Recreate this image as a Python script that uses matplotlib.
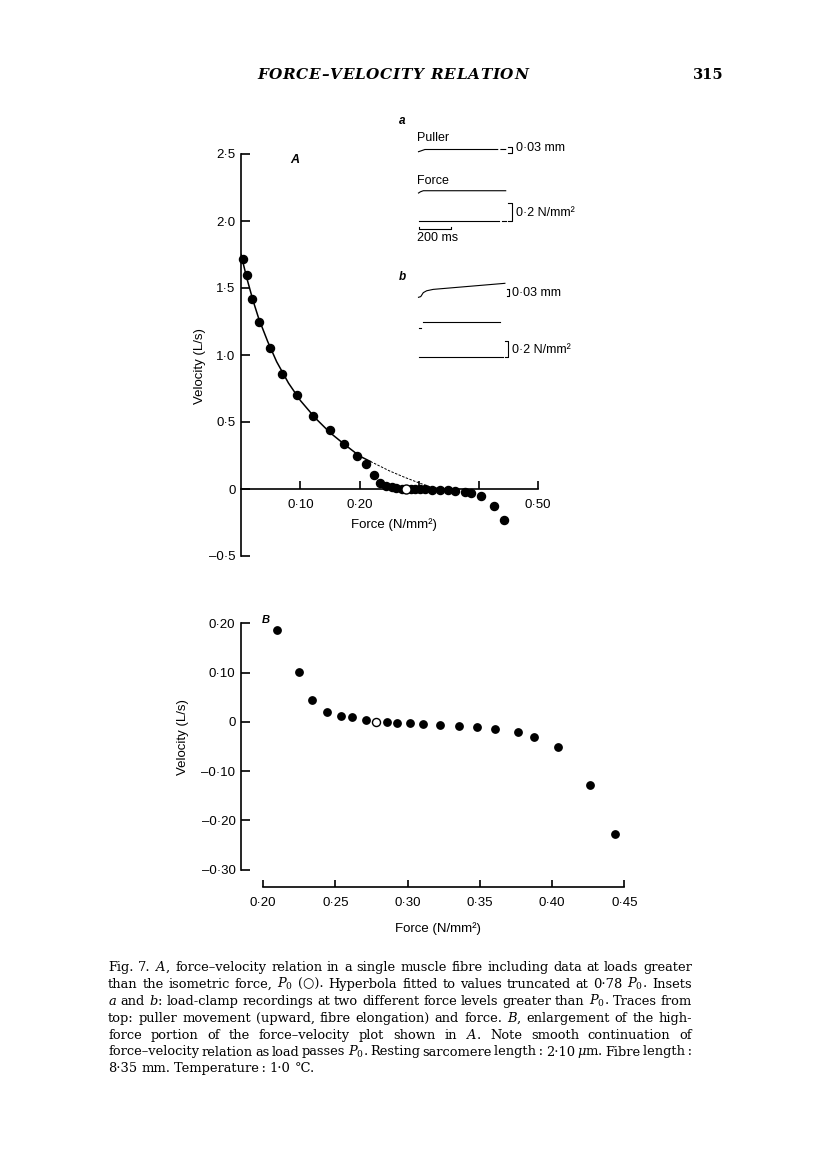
import numpy as np
import matplotlib
matplotlib.use('Agg')
import matplotlib.pyplot as plt

plt.rcParams['font.family'] = ['Liberation Sans', 'DejaVu Sans']
plt.rcParams['mathtext.fontset'] = 'dejavuserif'

W, H = 816, 1170

# panel A: low-force points (only in A) and high-force points (A and B)
force_low = [0.004, 0.0096, 0.0185, 0.031, 0.048, 0.069, 0.094, 0.122, 0.149, 0.174, 0.196]
vel_low = [1.716, 1.600, 1.418, 1.244, 1.055, 0.861, 0.701, 0.547, 0.438, 0.333, 0.249]
force_high = [0.2099, 0.2247, 0.2342, 0.2446, 0.2538, 0.2614, 0.2716, 0.2857, 0.2926, 0.3014,
              0.3106, 0.3222, 0.3355, 0.3478, 0.3604, 0.3766, 0.3872, 0.4038, 0.4262, 0.4435]
vel_high = [0.186, 0.102, 0.044, 0.021, 0.012, 0.0095, 0.0034, -0.0003, -0.002, -0.0027,
            -0.0034, -0.0054, -0.0074, -0.0108, -0.0149, -0.021, -0.030, -0.050, -0.128, -0.228]
p0_force = [0.2785]
p0_vel = [0.0]

# fitted hyperbola (solid up to 0.78 P0, dashed beyond)
fit_force = [0.0, 0.005, 0.010, 0.020, 0.030, 0.045, 0.060, 0.080, 0.100, 0.125, 0.150, 0.175, 0.200, 0.218]
fit_vel = [1.75, 1.66, 1.57, 1.41, 1.27, 1.10, 0.95, 0.79, 0.66, 0.53, 0.42, 0.33, 0.245, 0.205]
ext_force = [0.218, 0.225, 0.250, 0.275, 0.300, 0.320, 0.340]
ext_vel = [0.205, 0.19, 0.135, 0.088, 0.045, 0.014, 0.0]

a_yticks = [-0.5, 0, 0.5, 1.0, 1.5, 2.0, 2.5]
a_ylabels = ['–0·5', '0', '0·5', '1·0', '1·5', '2·0', '2·5']
a_xticks = [0.1, 0.2, 0.3, 0.4, 0.5]
a_xlabels = ['0·10', '0·20', '', '', '0·50']
b_yticks = [-0.3, -0.2, -0.1, 0, 0.1, 0.2]
b_ylabels = ['–0·30', '–0·20', '–0·10', '0', '0·10', '0·20']
b_xticks = [0.20, 0.25, 0.30, 0.35, 0.40, 0.45]
b_xlabels = ['0·20', '0·25', '0·30', '0·35', '0·40', '0·45']

# inset traces: time in ms, puller in mm, force in N/mm2
puller_a_t = [0, 15, 40, 80, 495, np.nan, 515, 545]
puller_a_mm = [0, 0.004, 0.011, 0.011, 0.011, np.nan, 0.011, 0.011]
force_a_t = [0, 12, 30, 545]
force_a_val = [0.316, 0.33, 0.342, 0.342]
base_a_t = [0, 505, np.nan, 520, 545]
base_a_val = [0, 0, np.nan, 0, 0]
puller_b_t = [0, 14, 30, 51, 92, 540]
puller_b_mm = [0, 0.003, 0.020, 0.028, 0.034, 0.060]
force_b_t = [0, 16, np.nan, 28, 510]
force_b_val = [0.37, 0.37, np.nan, 0.45, 0.45]
base_b_t = [0, 530]
base_b_val = [0, 0]

caption = [
    'Fig. 7. $A$, force–velocity relation in a single muscle fibre including data at loads greater',
    'than the isometric force, $P_0$ (○). Hyperbola fitted to values truncated at 0·78 $P_0$. Insets',
    '$a$ and $b$: load-clamp recordings at two different force levels greater than $P_0$. Traces from',
    'top: puller movement (upward, fibre elongation) and force. $B$, enlargement of the high-',
    'force portion of the force–velocity plot shown in $A$. Note smooth continuation of',
    'force–velocity relation as load passes $P_0$. Resting sarcomere length\u2009: 2·10 $\\mu$m. Fibre length\u2009:',
    '8·35 mm. Temperature\u2009: 1·0 °C.',
]


def fx(x):
    return x / W


def fy(y):
    return 1 - y / H


fig = plt.figure(figsize=(W / 100, H / 100), dpi=100)
renderer = fig.canvas.get_renderer()
TICK_FS = 9.5
LABEL_FS = 9.5
serif = ['DejaVu Serif', 'DejaVu Sans']


def style_axis(ax):
    ax.spines['top'].set_visible(False)
    ax.spines['right'].set_visible(False)
    for s in ('left', 'bottom'):
        ax.spines[s].set_linewidth(1.2)
    ax.patch.set_alpha(0)


# ---------- panel A ----------
axA = fig.add_axes([fx(241), fy(556), (538 - 241) / W, (556 - 154) / H])
axA.set_xlim(0, 0.5)
axA.set_ylim(-0.5, 2.5)
style_axis(axA)
axA.spines['bottom'].set_position(('data', 0))
axA.spines['bottom'].set_bounds(0, 0.5)
axA.spines['left'].set_bounds(-0.5, 2.5)
axA.set_yticks(a_yticks)
axA.set_yticklabels(a_ylabels, fontsize=TICK_FS)
axA.set_xticks(a_xticks)
axA.set_xticklabels(a_xlabels, fontsize=TICK_FS)
axA.tick_params(axis='y', direction='in', length=6.5, width=1.2, pad=4)
axA.tick_params(axis='x', direction='in', length=6, width=1.2, pad=7)

axA.plot(fit_force, fit_vel, color='black', lw=1.1, zorder=2)
axA.plot(ext_force, ext_vel, color='black', lw=0.7, ls=(0, (2.5, 1.5)), zorder=2)
axA.plot(force_low, vel_low, 'o', color='black', ms=5.8, clip_on=False, zorder=3)
axA.plot(force_high, vel_high, 'o', color='black', ms=5.8, clip_on=False, zorder=3)
axA.plot(p0_force, p0_vel, 'o', mfc='white', mec='black', mew=1, ms=6.5, clip_on=False, zorder=4)

fig.text(fx(295), fy(160), 'A', fontsize=9, style='italic', weight='bold', ha='center', va='center')
fig.text(fx(200), fy(366), 'Velocity (L/s)', fontsize=LABEL_FS, rotation=90, ha='center', va='center')
fig.text(fx(394), fy(525), 'Force (N/mm²)', fontsize=LABEL_FS, ha='center', va='center')

# ---------- panel B ----------
axB = fig.add_axes([fx(241), fy(869.7), (624.3 - 241) / W, (869.7 - 623.3) / H])
axB.set_xlim(0.18478, 0.45)
axB.set_ylim(-0.30, 0.20)
style_axis(axB)
axB.spines['bottom'].set_position(('outward', 12.5))
axB.spines['bottom'].set_bounds(0.20, 0.45)
axB.spines['left'].set_bounds(-0.30, 0.20)
axB.set_yticks(b_yticks)
axB.set_yticklabels(b_ylabels, fontsize=TICK_FS)
axB.set_xticks(b_xticks)
axB.set_xticklabels(b_xlabels, fontsize=TICK_FS)
axB.tick_params(axis='y', direction='in', length=6.5, width=1.2, pad=4)
axB.tick_params(axis='x', direction='in', length=5.3, width=1.2, pad=7)

bf = [f for f in force_high if f >= 0.20]
bv = [v for f, v in zip(force_high, vel_high) if f >= 0.20]
axB.plot(bf, bv, 'o', color='black', ms=5.3, clip_on=False, zorder=3)
axB.plot(p0_force, p0_vel, 'o', mfc='white', mec='black', mew=1, ms=5.8, clip_on=False, zorder=4)

fig.text(fx(266), fy(620), 'B', fontsize=8, style='italic', weight='bold', ha='center', va='center')
fig.text(fx(183), fy(737), 'Velocity (L/s)', fontsize=LABEL_FS, rotation=90, ha='center', va='center')
fig.text(fx(438), fy(929), 'Force (N/mm²)', fontsize=LABEL_FS, ha='center', va='center')

# ---------- insets a and b ----------
T0_PX = 418.5
PX_PER_MS = 0.16


def trace_axes(base_y, px_per_unit):
    left, right = 400, 595
    top, bottom = base_y - 50, base_y + 15
    ax = fig.add_axes([fx(left), fy(bottom), (right - left) / W, (bottom - top) / H])
    ax.set_xlim((left - T0_PX) / PX_PER_MS, (right - T0_PX) / PX_PER_MS)
    ax.set_ylim((base_y - bottom) / px_per_unit, (base_y - top) / px_per_unit)
    ax.axis('off')
    return ax


def bracket(ax, t0, t1, y0, y1):
    ax.plot([t0, t1, t1, t0], [y0, y0, y1, y1], color='black', lw=0.8, clip_on=False)


tr_kw = dict(color='black', lw=0.8, clip_on=False)

ax_pa = trace_axes(151.7, 200.0)
ax_pa.plot(puller_a_t, puller_a_mm, **tr_kw)
bracket(ax_pa, 562, 584, -0.005, 0.025)

ax_fa = trace_axes(221.0, 88.5)
ax_fa.plot(force_a_t, force_a_val, **tr_kw)
ax_fa.plot(base_a_t, base_a_val, **tr_kw)
bracket(ax_fa, 562, 584, 0.0, 0.2)
ax_fa.plot([0, 0, 200, 200], [-0.065, -0.09, -0.09, -0.065], **tr_kw)

ax_pb = trace_axes(297.3, 233.0)
ax_pb.plot(puller_b_t, puller_b_mm, **tr_kw)
bracket(ax_pb, 550, 568, 0.0056, 0.0356)

ax_fb = trace_axes(357.0, 78.0)
ax_fb.plot(force_b_t, force_b_val, **tr_kw)
ax_fb.plot(base_b_t, base_b_val, **tr_kw)
bracket(ax_fb, 543, 561, 0.0, 0.2)

ins_fs = 9
fig.text(fx(402), fy(121), 'a', fontsize=8.5, style='italic', weight='bold', ha='center', va='center')
fig.text(fx(417), fy(138), 'Puller', fontsize=ins_fs, ha='left', va='center')
fig.text(fx(516), fy(148), '0·03 mm', fontsize=ins_fs, ha='left', va='center')
fig.text(fx(417), fy(180.5), 'Force', fontsize=ins_fs, ha='left', va='center')
fig.text(fx(516), fy(213), '0·2 N/mm²', fontsize=ins_fs, ha='left', va='center')
fig.text(fx(417), fy(238), '200 ms', fontsize=ins_fs, ha='left', va='center')
fig.text(fx(402), fy(277), 'b', fontsize=8.5, style='italic', weight='bold', ha='center', va='center')
fig.text(fx(512), fy(293), '0·03 mm', fontsize=ins_fs, ha='left', va='center')
fig.text(fx(512), fy(350), '0·2 N/mm²', fontsize=ins_fs, ha='left', va='center')


# ---------- running head ----------
def tracked(x0, x1, y, s, **kw):
    arts = [fig.text(0, fy(y), ch if ch != ' ' else '\u00a0', va='baseline', **kw) for ch in s]
    widths = [a.get_window_extent(renderer).width for a in arts]
    gap = (x1 - x0 - sum(widths)) / (len(s) - 1)
    x = x0
    for a, w in zip(arts, widths):
        a.set_x(fx(x))
        x += w + gap


tracked(257, 528, 79.3, 'FORCE–VELOCITY RELATION', family=serif, style='italic',
        weight='bold', fontsize=11)
fig.text(fx(724), fy(79.3), '315', family=serif, weight='bold', fontsize=10.5,
         ha='right', va='baseline')


# ---------- caption ----------
CAP_X0, CAP_X1 = 108, 692


def word_widths(line, fs):
    out = []
    for w in line.split(' '):
        t = fig.text(0, 0, w, family=serif, fontsize=fs)
        out.append(t.get_window_extent(renderer).width)
        t.remove()
    return out


def gaps_ok(fs):
    for i, line in enumerate(caption[:-1]):
        ws = word_widths(line, fs)
        gap = (CAP_X1 - CAP_X0 - sum(ws)) / (len(ws) - 1)
        if gap < (4.5 if i == 0 else 1.8):
            return False
    return True


cap_fs = 12.0
while not gaps_ok(cap_fs):
    cap_fs -= 0.1


def justify(line, y, last=False, **kw):
    words = line.split(' ')
    arts = [fig.text(0, fy(y), w, va='baseline', **kw) for w in words]
    widths = [a.get_window_extent(renderer).width for a in arts]
    if last:
        gap = 0.3 * kw['fontsize'] * 100 / 72
    else:
        gap = (CAP_X1 - CAP_X0 - sum(widths)) / (len(words) - 1)
    x = CAP_X0
    for a, w in zip(arts, widths):
        a.set_x(fx(x))
        x += w + gap


for i, line in enumerate(caption):
    justify(line, 971 + 16.9 * i, last=(i == len(caption) - 1), family=serif, fontsize=cap_fs)

fig.savefig('out.png', dpi=100)
